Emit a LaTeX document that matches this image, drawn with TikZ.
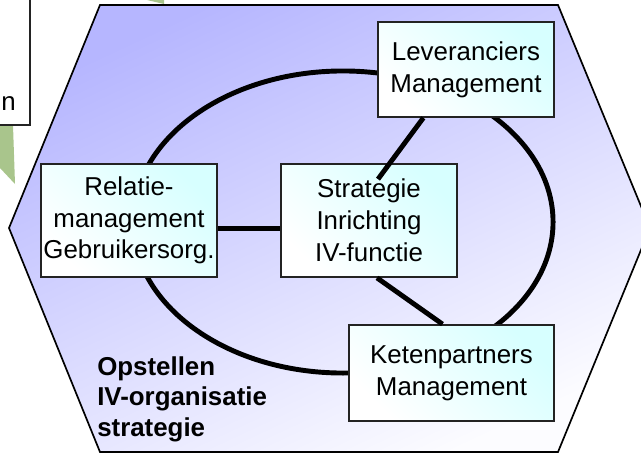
\documentclass[tikz,border=0pt]{standalone}
\usepackage{fontspec}
\setmainfont{Liberation Sans}
\usetikzlibrary{calc}
\definecolor{hexblue}{RGB}{182,182,255}
\definecolor{hexlight}{RGB}{252,252,255}
\definecolor{boxcyan}{RGB}{215,255,255}
\definecolor{arrowgreen}{RGB}{169,197,140}
\definecolor{framegray}{RGB}{35,35,35}
\begin{document}
\begin{tikzpicture}[x=0.025cm,y=-0.025cm,
    blok/.style={draw=framegray,line width=1.2pt,top color=boxcyan,bottom color=white,
        shading angle=-45,align=center,inner sep=0pt,font=\fontsize{18.4}{22.6}\selectfont},
    ring/.style={line width=3.5pt}]
\useasboundingbox (0,0) rectangle (641,455);
% green arrow parts behind the hexagon
\fill[arrowgreen] (0,125)--(13,125)--(15,184)--(0,168)--cycle;
\fill[arrowgreen] (147,0)--(164,0)--(164,4)--cycle;
\draw[framegray,line width=1.4pt,fill=white] (-10,-10) rectangle (30,125);
\node (rest) at (1,110)[anchor=base west,inner sep=0pt,font=\fontsize{18.4}{22.6}\selectfont]{n};
% hexagon
\shade[top color=hexblue,bottom color=hexlight,shading angle=25]
    (100,5)--(558,5)--(650,228)--(558,452)--(100,452)--(9,228)--cycle;
\draw[line width=1.2pt] (100,5)--(558,5)--(650,228)--(558,452)--(100,452)--(9,228)--cycle;
\draw[ring] (343,222) ellipse [x radius=5.25cm, y radius=3.775cm];
\node[blok,minimum width=4.4cm,minimum height=2.375cm] (lev) at (466,69.5) {Leveranciers\\Management};
\node[blok,minimum width=4.4cm,minimum height=2.825cm] (rel) at (129,220.5) {Relatie-\\management\\Gebruikersorg.};
\node[blok,minimum width=4.4cm,minimum height=2.825cm] (strat) at (369,220.5) {Strategie\\Inrichting\\IV-functie};
\node[blok,minimum width=5.125cm,minimum height=2.4cm] (ket) at (451.5,373) {Ketenpartners\\Management};
\draw[ring] ($(lev.south west)!0.26!(lev.south east)$) -- ($(strat.north)+(9,16)$);
\draw[ring] ($(strat.south)+(8,0)$) -- ($(ket.north)+(-9,0)$);
\draw[ring] ($(rel.east)+(0,8)$) -- ($(strat.west)+(0,8)$);
\node (titel) at (97,356)[anchor=north west,inner sep=0pt,align=left,
    font=\bfseries\fontsize{18.4}{22}\selectfont]{Opstellen\\IV-organisatie\\strategie};
\end{tikzpicture}
\end{document}
